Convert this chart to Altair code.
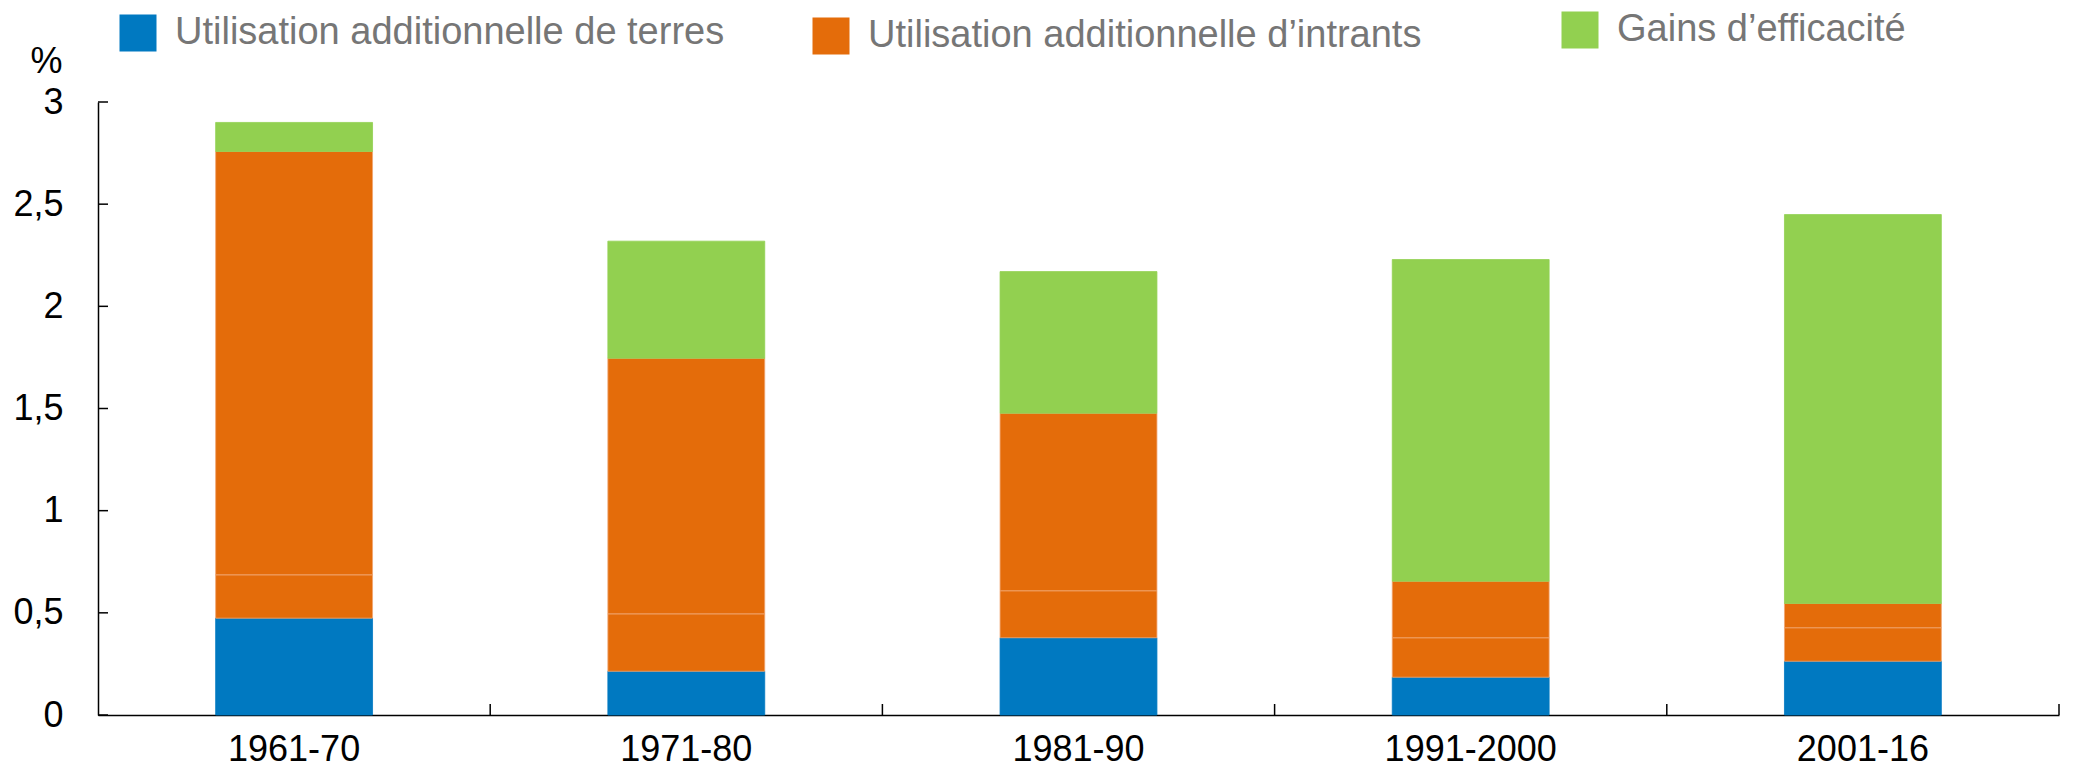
import altair as alt
import pandas as pd

periods = ["1961-70", "1971-80", "1981-90", "1991-2000", "2001-16"]
land = [0.474, 0.214, 0.378, 0.185, 0.263]
inputs_a = [0.212, 0.281, 0.230, 0.193, 0.164]
inputs_b = [2.072, 1.251, 0.869, 0.277, 0.119]
efficiency = [0.142, 0.573, 0.693, 1.574, 1.903]

series_keys = ["land", "inputs_a", "inputs_b", "efficiency"]
series_values = [land, inputs_a, inputs_b, efficiency]
fill_colors = ["#0079C1", "#E46C0A", "#E46C0A", "#92D050"]
stroke_colors = ["#0079C1", "#F0A470", "#F0A470", "#92D050"]

legend_labels = [
    "Utilisation additionnelle de terres",
    "Utilisation additionnelle d\u2019intrants",
    "Gains d\u2019efficacit\u00e9",
]
legend_colors = ["#0079C1", "#E46C0A", "#92D050"]

y_ticks = [0, 0.5, 1, 1.5, 2, 2.5, 3]

FONT = "Liberation Sans"
W, H = 1961, 613
PAD_IN, PAD_OUT = 0.6, 0.3
STEP = W / (len(periods) - PAD_IN + 2 * PAD_OUT)

rows = []
for k, (key, vals) in enumerate(zip(series_keys, series_values)):
    for p, v in zip(periods, vals):
        rows.append({"period": p, "series": key, "value": v, "ord": k})
df = pd.DataFrame(rows)

xscale = alt.Scale(domain=periods, paddingInner=PAD_IN, paddingOuter=PAD_OUT)
yscale = alt.Scale(domain=[0, 3], nice=False)

x_axis = alt.Axis(title=None, labelAngle=0, ticks=False, domainColor="black",
                  domainWidth=1.5, labelFont=FONT, labelFontSize=36,
                  labelColor="black", labelPadding=17, grid=False)
y_axis = alt.Axis(title="%", titleAngle=0, titleX=-52, titleY=-30,
                  titleAlign="center", titleBaseline="alphabetic",
                  titleFont=FONT, titleFontSize=36, titleFontWeight="normal",
                  titleColor="black", values=y_ticks, ticks=False,
                  labelExpr="replace(format(datum.value, '.1~f'), '.', ',')",
                  labelFont=FONT, labelFontSize=36, labelColor="black",
                  labelPadding=35, domainColor="black", domainWidth=1.5,
                  grid=False)

bars = alt.Chart(df).mark_bar(strokeWidth=0.8).encode(
    x=alt.X("period:N", scale=xscale, sort=periods, axis=x_axis),
    y=alt.Y("value:Q", stack="zero", scale=yscale, axis=y_axis),
    color=alt.Color("series:N", scale=alt.Scale(domain=series_keys, range=fill_colors), legend=None),
    stroke=alt.Stroke("series:N", scale=alt.Scale(domain=series_keys, range=stroke_colors), legend=None),
    order=alt.Order("ord:Q", sort="ascending"),
)

ytick_df = pd.DataFrame({"t": y_ticks})
yticks = alt.Chart(ytick_df).mark_rule(color="black", strokeWidth=1.5).encode(
    y=alt.Y("t:Q", scale=yscale, axis=y_axis),
    x=alt.value(0),
    x2=alt.value(10),
)

xtick_df = pd.DataFrame({"period": periods})
xticks = alt.Chart(xtick_df).mark_rule(color="black", strokeWidth=1.5,
                                       xOffset=PAD_OUT * STEP).encode(
    x=alt.X("period:N", scale=xscale, sort=periods, bandPosition=1, axis=x_axis),
    y=alt.value(H),
    y2=alt.value(H - 11),
)

legend_pos = [(21, -88), (714, -85), (1463, -91)]
legend_layers = []
for i, (lab, col, (lx, ly)) in enumerate(zip(legend_labels, legend_colors, legend_pos)):
    fld = f"lg{i}"
    ldf = pd.DataFrame({fld: [lab]})
    layer = alt.Chart(ldf).mark_square(opacity=0, filled=True).encode(
        color=alt.Color(f"{fld}:N", scale=alt.Scale(domain=[lab], range=[col]),
                        legend=alt.Legend(title=None, orient="none", legendX=lx, legendY=ly,
                                          symbolType="square", symbolSize=1369,
                                          symbolOpacity=1, symbolStrokeWidth=0,
                                          labelFont=FONT, labelFontSize=38,
                                          labelColor="#767676", labelOffset=18,
                                          labelLimit=2000, padding=0)),
    )
    legend_layers.append(layer)

chart = alt.layer(bars, yticks, xticks, *legend_layers).resolve_scale(
    color="independent", stroke="independent"
).properties(
    width=W, height=H,
    padding={"left": 4, "top": 3, "right": 5, "bottom": 0},
).configure_view(stroke=None)

chart.save("out.html", embed_options={"renderer": "svg", "actions": False})
